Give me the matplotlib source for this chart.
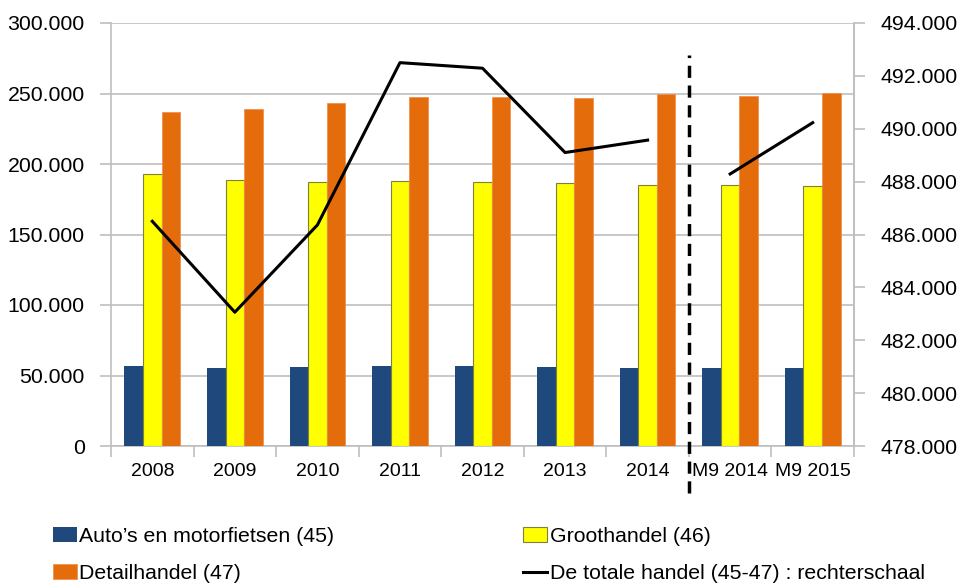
import numpy as np
import matplotlib
matplotlib.use("Agg")
import matplotlib.pyplot as plt
import matplotlib.transforms as mtransforms

plt.rcParams['font.family'] = ['Liberation Sans', 'DejaVu Sans']

# gegevens
categorieen = ['2008', '2009', '2010', '2011', '2012', '2013', '2014', 'M9 2014', 'M9 2015']
auto = [56700, 55500, 56200, 57000, 57000, 55700, 55100, 55100, 55100]
groothandel = [192900, 188400, 187000, 187900, 187200, 186300, 184900, 184900, 184200]
detailhandel = [236900, 238800, 243000, 247500, 247500, 247000, 249400, 248000, 250400]
totaal = [486500, 483060, 486360, 492500, 492290, 489100, 489570, 488290, 490230]

links_ticks = np.arange(0, 300001, 50000)
rechts_ticks = np.arange(478000, 494001, 2000)

def fmt(v):
    return f"{v:,.0f}".replace(',', '.') if v >= 1000 else f"{v:.0f}"

fig = plt.figure(figsize=(9.57, 5.86), dpi=100)
ax = fig.add_axes([111/957, 1-446/586, (854-111)/957, (446-23)/586])

x = np.arange(len(categorieen))
b = 0.225
grijs = '#bfbfbf'
ax.bar(x - b, auto, b, color='#1f497d', label="Auto\u2019s en motorfietsen (45)", zorder=3)
ax.bar(x, groothandel, b, color='#ffff00', edgecolor='#7f7f40', linewidth=0.8,
       label='Groothandel (46)', zorder=3)
ax.bar(x + b, detailhandel, b, color='#e46c0a', edgecolor='#f09050', linewidth=0.6,
       label='Detailhandel (47)', zorder=3)

ax.set_xlim(-0.5, len(categorieen) - 0.5)
ax.set_ylim(0, 300000)
ax.set_yticks(links_ticks)
ax.set_yticklabels([fmt(v) for v in links_ticks])
ax.yaxis.grid(True, color=grijs, linewidth=1.2, zorder=0)
ax.set_axisbelow(True)

ax.set_xticks(x)
ax.set_xticklabels(categorieen)
ax.set_xticks(np.arange(-0.5, len(categorieen)), minor=True)
ax.tick_params(axis='x', which='major', length=0, labelsize=14, pad=12)
ax.tick_params(axis='x', which='minor', length=8, color=grijs, width=1.2)
ax.tick_params(axis='y', length=8, color=grijs, width=1.2, labelsize=15.3, pad=11)

ax.spines['top'].set_visible(False)
for kant in ['left', 'right', 'bottom']:
    ax.spines[kant].set_color(grijs)
    ax.spines[kant].set_linewidth(1.2)

ax2 = ax.twinx()
ax2.set_ylim(478000, 494000)
ax2.set_yticks(rechts_ticks)
ax2.set_yticklabels([fmt(v) for v in rechts_ticks])
ax2.tick_params(axis='y', length=8, color=grijs, width=1.2, labelsize=15.3, pad=11)
for kant in ['top', 'left', 'bottom']:
    ax2.spines[kant].set_visible(False)
ax2.spines['right'].set_color(grijs)
ax2.spines['right'].set_linewidth(1.2)

lijn, = ax2.plot(x[:7], totaal[:7], color='black', linewidth=2.2,
                 label='De totale handel (45-47) : rechterschaal', zorder=4)
ax2.plot(x[7:], totaal[7:], color='black', linewidth=2.2, zorder=4)

# scheidingslijn tussen jaren en M9
trans = mtransforms.blended_transform_factory(ax.transData, ax.transAxes)
ax2.plot([6.5, 6.5], [-0.11, 0.925], transform=trans, color='black', linewidth=2.5,
         dashes=(3.5, 2.2), clip_on=False, zorder=5)

h1, l1 = ax.get_legend_handles_labels()
handles = [h1[0], h1[2], h1[1], lijn]
labels = [l1[0], l1[2], l1[1], lijn.get_label()]
fig.legend(handles, labels, ncol=2, loc='upper left', bbox_to_anchor=(53/957, 1-527/586),
           frameon=False, fontsize=15.3, handlelength=1.13, handleheight=0.66,
           handletextpad=0.1, columnspacing=8.9, labelspacing=0.85, borderpad=0,
           borderaxespad=0)

fig.savefig('out.png', dpi=100)
